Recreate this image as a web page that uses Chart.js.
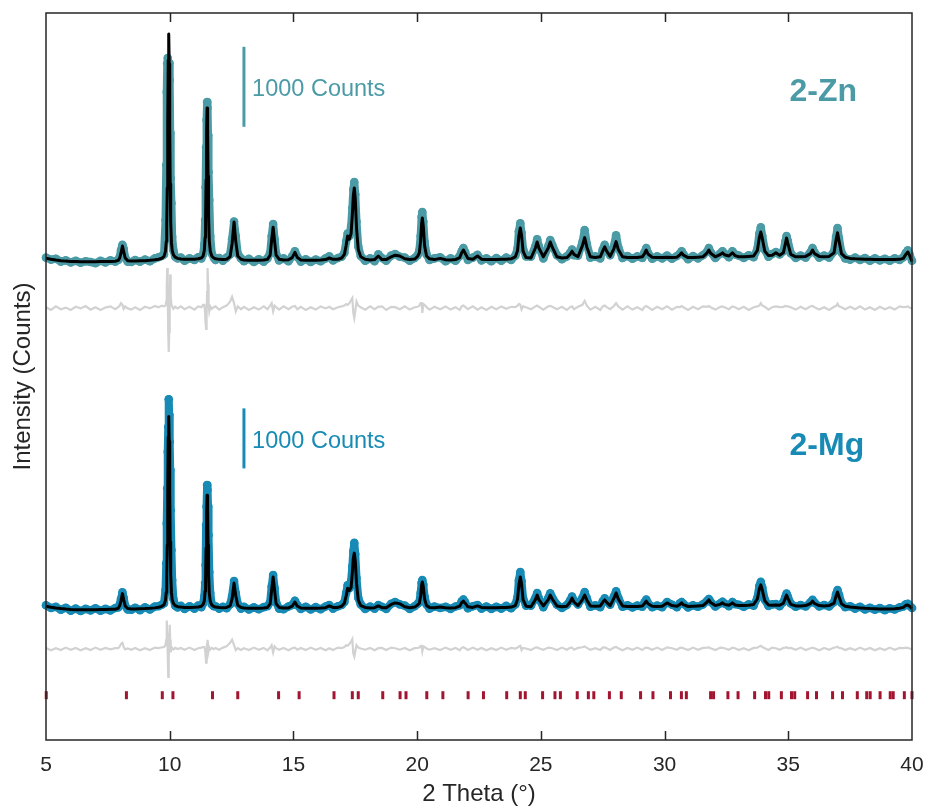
<!DOCTYPE html>
<html>
<head>
<meta charset="utf-8">
<title>PXRD refinement: 2-Zn and 2-Mg</title>
<script src="https://cdn.jsdelivr.net/npm/chart.js@4.4.1/dist/chart.umd.min.js"></script>
<style>
  html, body { margin: 0; padding: 0; background: #ffffff; }
  canvas { display: block; }
</style>
</head>
<body>
<canvas id="c" width="928" height="809"></canvas>
<script>
// 2θ sampling points shared by every pattern trace (denser across reflections)
const twoTheta = [
  5.0, 5.2, 5.4, 5.6, 5.8, 6.0, 6.2, 6.4, 6.6, 6.8, 7.0, 7.2, 7.4, 7.6, 7.8,
  7.92, 7.98, 8.03, 8.09, 8.14, 8.2, 8.3,
  8.45, 8.6, 8.8, 9.0, 9.2, 9.4, 9.55, 9.68, 9.77,
  9.83, 9.86, 9.88, 9.9, 9.92, 9.94, 9.96, 9.98, 10.0, 10.02, 10.04, 10.07, 10.1, 10.15, 10.22, 10.32,
  10.45, 10.6, 10.8, 11.0, 11.15, 11.28, 11.35,
  11.4, 11.43, 11.45, 11.47, 11.49, 11.51, 11.53, 11.55, 11.57, 11.6, 11.64, 11.7, 11.78,
  11.85, 12.0, 12.15, 12.3, 12.44, 12.52, 12.6, 12.67, 12.75, 12.88,
  13.0, 13.2, 13.4, 13.6, 13.8, 13.95, 14.06, 14.12, 14.18, 14.24, 14.3, 14.42,
  14.6, 14.8, 14.95, 15.06, 15.16, 15.3, 15.5, 15.7, 15.9, 16.1, 16.3, 16.45, 16.6, 16.8, 16.95,
  17.06, 17.13, 17.19, 17.26, 17.33, 17.38, 17.42, 17.46, 17.5, 17.55, 17.62, 17.72,
  17.9, 18.1, 18.28, 18.43, 18.58, 18.75, 18.95, 19.11, 19.3, 19.5, 19.7, 19.9, 20.02,
  20.09, 20.14, 20.18, 20.21, 20.25, 20.3, 20.38, 20.5,
  20.7, 20.93, 21.15, 21.35, 21.55, 21.72, 21.8, 21.87, 21.94, 22.05, 22.25, 22.44, 22.6, 22.8, 23.0, 23.2, 23.4, 23.6, 23.8, 23.97,
  24.06, 24.11, 24.17, 24.22, 24.28, 24.4,
  24.6, 24.78, 24.85, 24.92, 25.1, 25.3, 25.38, 25.46, 25.65, 25.85, 26.05, 26.18, 26.26, 26.34, 26.5, 26.68, 26.77, 26.86, 27.0,
  27.2, 27.4, 27.5, 27.58, 27.66, 27.8, 27.95, 28.04, 28.13, 28.3, 28.5, 28.7, 28.9, 29.1, 29.19, 29.26, 29.33, 29.5, 29.7, 29.9,
  30.1, 30.3, 30.5, 30.62, 30.69, 30.76, 30.95, 31.15, 31.35, 31.55, 31.72, 31.79, 31.86, 32.05, 32.26, 32.34, 32.42, 32.6, 32.74, 32.85,
  33.0, 33.2, 33.4, 33.6, 33.75, 33.83, 33.89, 33.95, 34.05, 34.2, 34.35, 34.5, 34.65, 34.8, 34.88, 34.93, 34.98,
  35.1, 35.3, 35.5, 35.7, 35.9, 35.98, 36.06, 36.25, 36.45, 36.65, 36.85, 36.93, 36.99, 37.05, 37.15, 37.3,
  37.5, 37.7, 37.9, 38.1, 38.3, 38.5, 38.7, 38.9, 39.1, 39.3, 39.5, 39.65, 39.75, 39.83, 39.9, 40.0
];

// 2-Zn: observed, calculated and difference (counts above background)
const znObs = [
  30, 5, 15, -20, -5, -30, -10, -35, -15, -25, -40, -10, -30, -5, -20,
  0, 40, 120, 190, 140, 30, -20,
  -25, 0, -20, 5, -15, 20, 35, 50, 70,
  500, 1190, 2100, 2460, 2525, 2250, 2400, 2460, 2250, 1590, 1025, 710, 290, 120, 40, 20,
  30, -10, 20, 0, 35, 20, 70,
  200, 500, 910, 1410, 1750, 1975, 1900, 1560, 1100, 750, 300, 80, 30,
  0, 25, -10, 30, 70, 260, 480, 300, 80, 20,
  -15, 15, -25, 10, -20, 20, 90, 300, 450, 260, 80, -5,
  20, -15, 45, 110, 40, -20, 10, -25, 5, -15, 20, 45, -5, 25, 40,
  90, 230, 330, 300, 420, 650, 880, 975, 820, 480, 170, 50,
  -10, 20, -15, 70, 25, -10, 55, 75, 40, 30, -10, 25, 60,
  120, 300, 540, 600, 480, 230, 70, 0,
  20, 35, -15, 20, -10, 50, 110, 150, 100, 0, 30, 65, -5, 20, -15, 25, -10, 30, 0, 55,
  150, 360, 460, 340, 140, 45,
  40, 175, 260, 170, 20, 170, 250, 190, 60, 10, 45, 90, 130, 60, 55, 220, 375, 200, 30,
  45, 20, 130, 190, 120, 60, 170, 310, 160, 25, 50, 15, 45, 25, 100, 150, 90, 15, 45, 20,
  55, 15, 50, 80, 110, 70, 10, 50, 20, 60, 105, 150, 100, 25, 85, 110, 80, 35, 110, 70,
  55, 25, 60, 35, 140, 330, 410, 300, 130, 40, 75, 100, 70, 110, 230, 300, 240,
  85, 25, 55, 30, 100, 150, 95, 30, 55, 30, 110, 290, 400, 270, 95, 20,
  5, 30, 0, 25, -10, 20, -5, 15, -10, 20, 0, 35, 90, 120, 70, -10
];
const znCalc = [
  22, 10, 0, -8, -14, -18, -20, -22, -22, -22, -22, -20, -20, -18, -15,
  -5, 25, 85, 175, 105, 25, -8,
  -12, -12, -10, -8, -4, 2, 10, 22, 45,
  110, 230, 450, 900, 1700, 2500, 2825, 2450, 1700, 950, 480, 220, 120, 65, 35, 20,
  12, 8, 8, 10, 15, 25, 50,
  120, 280, 520, 1000, 1600, 1900, 1650, 1050, 560, 240, 110, 50, 25,
  15, 8, 5, 10, 40, 200, 475, 230, 50, 10,
  0, -2, -3, -3, 0, 8, 60, 250, 410, 230, 60, 10,
  0, 2, 30, 95, 30, 0, -3, -3, -2, 0, 5, 25, 8, 10, 25,
  70, 180, 300, 260, 330, 560, 800, 900, 760, 400, 130, 40,
  10, 0, 5, 50, 5, 5, 40, 60, 50, 15, 5, 12, 45,
  90, 240, 450, 525, 420, 180, 50, 15,
  5, 20, 3, 0, 5, 30, 90, 125, 85, 20, 10, 50, 10, 5, 5, 5, 8, 10, 15, 40,
  120, 300, 400, 310, 110, 30,
  25, 150, 225, 150, 40, 150, 225, 160, 40, 25, 30, 70, 110, 70, 40, 180, 280, 160, 40,
  30, 40, 110, 165, 110, 45, 140, 230, 130, 40, 30, 30, 30, 40, 80, 125, 75, 35, 30, 30,
  35, 30, 35, 65, 90, 60, 30, 30, 35, 40, 90, 125, 85, 40, 70, 90, 65, 50, 90, 55,
  40, 40, 45, 50, 120, 280, 350, 270, 110, 55, 60, 90, 60, 90, 200, 275, 210,
  70, 40, 40, 45, 80, 125, 80, 45, 40, 45, 90, 250, 340, 240, 80, 35,
  20, 15, 12, 10, 8, 5, 5, 5, 5, 5, 8, 20, 70, 100, 60, -20
];
const znDiff = [
  10, -25, 20, -15, 5, -25, 15, -5, 25, -20, 10, -25, 5, 20, -15,
  10, 30, 60, 40, -10, 20, -5,
  -20, 10, -25, 15, -5, 25, 10, 30, 20,
  30, 80, 260, 500, 200, -300, -550, -300, 100, 420, 150, 40, 20, -10, 15, -5,
  20, -15, 15, -20, 20, 10, 40,
  40, -60, -180, -260, -120, 200, 500, 300, 60, -40, 20, -10, 10,
  20, -20, 10, 30, 80, 140, 60, -40, 20, -15,
  15, -25, 10, -20, 20, -15, 30, 60, -40, 30, 10, -20,
  20, -15, 15, 25, -15, 15, -25, 10, -20, 20, -5, 15, -15, 10, 20,
  30, 50, 40, 60, 100, 125, -60, -125, -40, 80, 30, 10,
  -20, 20, -15, 15, 20, -25, 15, 10, -15, 20, -20, 10, 15,
  30, 60, 60, -60, 50, 40, 10, -20,
  15, -15, 20, -20, 10, -25, 20, 30, 15, -15, 20, -20, 10, -25, 15, -15, 20, -10, 15, 10,
  30, 50, 40, -20, 20, 10,
  -15, 20, 30, 15, -20, 20, 25, 15, -15, 15, -25, 10, 20, -15, 15, 40, 90, 30, -20,
  15, -25, 20, 30, 10, -15, 25, 60, 20, -20, 20, -20, 10, -25, 15, 25, 10, -25, 15, -15,
  20, -20, 15, 10, 25, 10, -25, 15, -15, 20, 15, 25, 10, -20, 15, 20, 10, -15, 20, 10,
  -15, 15, -25, 10, 20, 30, 60, 30, 15, -20, 10, 20, 10, 15, 25, 20, 20,
  10, -20, 15, -15, 20, 25, 10, -20, 10, -25, 15, 25, 55, 20, 10, -15,
  15, -15, 20, -20, 10, -25, 15, -15, 10, -20, 20, 10, 15, 20, 5, -5
];

// 2-Mg: observed, calculated and difference (counts above background)
const mgObs = [
  45, 0, 20, -30, 5, -45, -10, -50, -15, -40, -5, -45, -15, -40, 0,
  10, 60, 150, 260, 170, 40, -25,
  -30, 5, -35, 10, -25, 25, 30, 55, 80,
  300, 745, 1410, 1995, 2605, 3020, 3480, 3215, 2770, 2300, 1630, 965, 465, 150, 40, 10,
  35, -15, 30, -10, 40, 15, 75,
  200, 415, 715, 1385, 1690, 2050, 1965, 1690, 1215, 600, 250, 60, 30,
  30, -10, 20, -5, 60, 200, 450, 250, 70, -10,
  20, -25, 10, -20, 15, 30, 100, 360, 550, 330, 95, -10,
  -20, 25, 50, 120, 45, -15, 20, -25, 15, -20, 25, 50, -10, 30, 50,
  100, 250, 380, 330, 450, 700, 950, 1085, 900, 500, 170, 60,
  -15, 25, -10, 50, 20, -15, 70, 100, 60, 40, -15, 30, 70,
  100, 250, 420, 465, 390, 190, 60, -10,
  25, 0, 20, -15, 25, 45, 110, 140, 95, -5, 30, 50, -10, 25, -15, 20, -10, 35, -5, 60,
  190, 460, 600, 450, 170, 40,
  40, 170, 250, 160, 15, 170, 245, 175, 55, 0, 50, 125, 190, 120, 60, 170, 265, 160, 20,
  45, 15, 110, 160, 110, 55, 190, 280, 170, 20, 45, 10, 40, 20, 95, 140, 80, 15, 40, 15,
  100, 55, 15, 80, 100, 70, 10, 45, 20, 60, 120, 150, 105, 25, 80, 105, 75, 30, 100, 65,
  55, 20, 60, 40, 170, 370, 435, 340, 140, 35, 60, 65, 30, 100, 185, 240, 190,
  75, 20, 50, 25, 95, 135, 90, 25, 50, 25, 100, 230, 300, 220, 85, 15,
  30, -10, 20, -25, 5, -30, 0, -35, -5, -25, 10, 25, 60, 70, 40, 0
];
const mgCalc = [
  30, 12, 0, -10, -18, -24, -28, -30, -30, -30, -28, -26, -24, -22, -20,
  -5, 40, 120, 240, 140, 35, -10,
  -15, -15, -12, -10, -5, 2, 12, 28, 55,
  130, 260, 520, 1050, 1950, 2850, 3190, 2780, 1950, 1100, 560, 260, 140, 75, 40, 22,
  15, 10, 10, 12, 18, 30, 60,
  120, 280, 520, 1000, 1580, 1880, 1640, 1050, 560, 240, 110, 50, 25,
  15, 8, 5, 10, 35, 150, 415, 200, 45, 10,
  0, -3, -5, -5, 0, 10, 70, 300, 515, 290, 70, 10,
  0, 2, 30, 100, 30, 0, -5, -5, -3, 0, 5, 35, 10, 10, 30,
  80, 200, 330, 290, 340, 580, 830, 915, 780, 410, 130, 40,
  10, 0, 5, 35, 5, 5, 60, 85, 70, 20, 5, 15, 50,
  80, 200, 380, 435, 350, 150, 40, 10,
  5, 15, 3, 0, 5, 30, 90, 115, 80, 20, 10, 35, 10, 5, 5, 5, 8, 10, 15, 40,
  150, 380, 515, 400, 140, 30,
  20, 140, 215, 140, 35, 140, 215, 150, 35, 20, 30, 100, 165, 100, 40, 140, 215, 130, 35,
  30, 35, 95, 135, 95, 40, 160, 250, 150, 35, 25, 25, 25, 35, 75, 115, 70, 30, 25, 30,
  85, 40, 30, 60, 85, 55, 25, 30, 35, 40, 100, 135, 90, 40, 65, 85, 60, 45, 85, 50,
  40, 40, 45, 60, 150, 320, 385, 300, 120, 50, 45, 50, 45, 80, 160, 215, 165,
  60, 35, 35, 40, 75, 115, 75, 40, 35, 40, 80, 200, 265, 190, 70, 30,
  15, 8, 2, -5, -10, -12, -15, -15, -15, -12, -5, 10, 45, 50, 30, -10
];
const mgDiff = [
  15, -25, 10, -20, 20, -15, 15, -25, 10, -20, 20, -15, 15, -10, 10,
  10, 40, 80, 100, 30, -10, 5,
  -15, 15, -25, 10, -20, 20, 10, 25, 30,
  60, 150, 470, 250, -100, -470, -200, 250, 400, 150, -60, 30, 10, -10, 15, -5,
  15, -15, 20, -20, 10, 20, 30,
  30, -20, -120, -230, -100, 80, 150, 60, -40, 20, -10, 15, -5,
  15, -15, 20, 40, 100, 150, 60, -20, 10, -20,
  10, -20, 20, -15, 15, -25, 20, 60, -60, 40, 10, -15,
  15, -25, 10, 20, -15, 15, -20, 20, -15, 15, -25, 10, -20, 20, 10,
  30, 60, 50, 80, 120, 160, -80, -130, -40, 60, 20, 5,
  -15, 15, -25, 10, 15, -20, 20, 10, -15, 15, -25, 10, 15,
  20, 50, 50, -40, 40, 30, 5, -15,
  10, -20, 20, -15, 15, -25, 15, 25, 10, -20, 20, -15, 15, -25, 10, -20, 20, -15, 15, 5,
  20, 40, 50, -20, 15, 5,
  -20, 20, 25, 10, -15, 20, 15, 10, -20, 20, -15, 15, 20, -15, 15, 25, 40, 15, -15,
  10, -20, 20, 25, 10, -20, 20, 30, 10, -25, 15, -15, 20, -20, 10, 20, 15, -15, 20, -20,
  25, 10, -15, 15, 20, 10, -20, 20, -15, 15, 20, 25, 10, -20, 20, 15, 10, -15, 20, 10,
  -20, 10, -25, 15, 20, 40, 50, 30, 10, -20, 20, 10, -15, 15, 20, 25, 10,
  15, -15, 20, -20, 10, 20, 10, -25, 15, -15, 20, 25, 35, 15, 10, -20,
  10, -20, 20, -15, 15, -25, 10, -20, 20, -15, 15, 10, 20, 15, 5, -5
];

// Calculated reflection positions (2θ)
const braggPositions = [
  5.01, 8.25, 9.70, 10.13, 11.73, 12.75, 14.40, 15.23, 16.64, 17.38, 17.62, 18.61, 19.31, 19.55,
  20.39, 21.04, 22.06, 22.68, 23.62, 24.17, 24.37, 25.07, 25.57, 25.79, 26.47, 26.92, 27.14, 27.77,
  28.25, 29.03, 29.53, 30.24, 30.68, 30.88, 31.86, 31.98, 32.56, 32.97, 33.64, 34.08, 34.21, 34.72,
  35.13, 35.26, 35.78, 36.14, 36.79, 37.19, 37.79, 38.17, 38.31, 38.71, 39.12, 39.24, 39.69, 40.0
];

const xTickValues = [5, 10, 15, 20, 25, 30, 35, 40];
const sampleNames = ['2-Zn', '2-Mg'];
const scaleBarCounts = 1000;

// ---- layout of the stacked traces (vertical units = 2-Zn counts) ----
const Y_MAX = 9087.5;
const ZN_OFFSET = 6000, ZN_DIFF_OFFSET = 5400, ZN_GAIN = 1;
const MG_OFFSET = 1650, MG_DIFF_OFFSET = 1140, MG_GAIN = 0.75;
const BRAGG_ROW = 560;
const BAR_X = 13.0, BAR_TEXT_X = 13.33, NAME_X = 35.05;
const ZN_BAR_BASE = 7665, MG_BAR_BASE = 3395;
const ZN_BAR_TEXT_Y = 8045, MG_BAR_TEXT_Y = 3650;
const ZN_NAME_Y = 7988, MG_NAME_Y = 3562;

const ZN_COLOR = '#4b9ba6';
const MG_COLOR = '#178bb5';
const CALC_COLOR = '#000000';
const DIFF_COLOR = '#d2d2d2';
const BRAGG_COLOR = '#a2142f';
const AXIS_COLOR = '#262626';
const FONT = "'Liberation Sans', Arial, Helvetica, sans-serif";

const series = [znObs, znCalc, znDiff, mgObs, mgCalc, mgDiff];
series.forEach((s, i) => {
  if (s.length !== twoTheta.length) throw new Error('series ' + i + ' has ' + s.length + ' values, expected ' + twoTheta.length);
});

const trace = (vals, offset, gain) => twoTheta.map((t, i) => ({ x: t, y: offset + vals[i] * gain }));

const obsStyle = (color) => ({
  showLine: true, borderColor: color, borderWidth: 8, borderCapStyle: 'round', borderJoinStyle: 'round',
  pointRadius: 4.3, pointBackgroundColor: color, pointBorderWidth: 0, pointHoverRadius: 0,
  clip: false, order: 1
});
const calcStyle = { showLine: true, borderColor: CALC_COLOR, borderWidth: 3, borderJoinStyle: 'round', pointRadius: 0, order: 0, clip: false };
const diffStyle = { showLine: true, borderColor: DIFF_COLOR, borderWidth: 2.2, pointRadius: 0, order: 2 };

const datasets = [
  Object.assign({ label: '2-Zn obs', data: trace(znObs, ZN_OFFSET, ZN_GAIN) }, obsStyle(ZN_COLOR)),
  Object.assign({ label: '2-Zn calc', data: trace(znCalc, ZN_OFFSET, ZN_GAIN) }, calcStyle),
  Object.assign({ label: '2-Zn diff', data: trace(znDiff, ZN_DIFF_OFFSET, ZN_GAIN) }, diffStyle),
  Object.assign({ label: '2-Mg obs', data: trace(mgObs, MG_OFFSET, MG_GAIN) }, obsStyle(MG_COLOR)),
  Object.assign({ label: '2-Mg calc', data: trace(mgCalc, MG_OFFSET, MG_GAIN) }, calcStyle),
  Object.assign({ label: '2-Mg diff', data: trace(mgDiff, MG_DIFF_OFFSET, MG_GAIN) }, diffStyle),
  {
    label: 'reflections', data: braggPositions.map(p => ({ x: p, y: BRAGG_ROW })),
    showLine: false, pointStyle: 'line', rotation: 90, pointRadius: 4, borderWidth: 3,
    borderColor: BRAGG_COLOR, pointBorderColor: BRAGG_COLOR, clip: false, order: 3
  },
  {
    label: '2-Zn scale', data: [{ x: BAR_X, y: ZN_BAR_BASE }, { x: BAR_X, y: ZN_BAR_BASE + scaleBarCounts * ZN_GAIN }],
    showLine: true, borderColor: ZN_COLOR, borderWidth: 3, pointRadius: 0, order: 3
  },
  {
    label: '2-Mg scale', data: [{ x: BAR_X, y: MG_BAR_BASE }, { x: BAR_X, y: MG_BAR_BASE + scaleBarCounts * MG_GAIN }],
    showLine: true, borderColor: MG_COLOR, borderWidth: 3, pointRadius: 0, order: 3
  }
];

// Box around the plot with inward x ticks, plus the text annotations
const framePlugin = {
  id: 'frame',
  afterDatasetsDraw(chart) {
    const { ctx, chartArea: a, scales: { x, y } } = chart;
    ctx.save();
    ctx.strokeStyle = AXIS_COLOR;
    ctx.lineWidth = 1.5;
    ctx.strokeRect(a.left, a.top, a.right - a.left, a.bottom - a.top);
    ctx.beginPath();
    xTickValues.forEach(v => {
      if (v <= x.min || v >= x.max) return;
      const px = Math.round(x.getPixelForValue(v)) + 0.5;
      ctx.moveTo(px, a.bottom); ctx.lineTo(px, a.bottom - 9);
      ctx.moveTo(px, a.top); ctx.lineTo(px, a.top + 9);
    });
    ctx.stroke();

    ctx.textAlign = 'left';
    ctx.textBaseline = 'alphabetic';
    ctx.font = '23.5px ' + FONT;
    ctx.fillStyle = ZN_COLOR;
    ctx.fillText(scaleBarCounts + ' Counts', x.getPixelForValue(BAR_TEXT_X), y.getPixelForValue(ZN_BAR_TEXT_Y));
    ctx.fillStyle = MG_COLOR;
    ctx.fillText(scaleBarCounts + ' Counts', x.getPixelForValue(BAR_TEXT_X), y.getPixelForValue(MG_BAR_TEXT_Y));

    ctx.font = 'bold 32px ' + FONT;
    ctx.fillStyle = ZN_COLOR;
    ctx.fillText(sampleNames[0], x.getPixelForValue(NAME_X), y.getPixelForValue(ZN_NAME_Y));
    ctx.fillStyle = MG_COLOR;
    ctx.fillText(sampleNames[1], x.getPixelForValue(NAME_X), y.getPixelForValue(MG_NAME_Y));
    ctx.restore();
  }
};

new Chart(document.getElementById('c'), {
  type: 'scatter',
  data: { datasets },
  options: {
    responsive: false,
    animation: false,
    devicePixelRatio: 1,
    events: [],
    layout: { padding: { top: 13, right: 16, left: 0, bottom: 0 } },
    plugins: { legend: { display: false }, tooltip: { enabled: false } },
    scales: {
      x: {
        type: 'linear', min: 5, max: 40, position: 'bottom',
        afterBuildTicks: (s) => { s.ticks = xTickValues.map(v => ({ value: v })); },
        ticks: { color: AXIS_COLOR, font: { family: FONT, size: 21 }, padding: 13, maxRotation: 0, autoSkip: false },
        grid: { display: false, drawTicks: false },
        border: { display: false },
        title: { display: true, text: '2 Theta (°)', color: AXIS_COLOR, font: { family: FONT, size: 24 }, padding: { top: 0, bottom: 0 } },
        afterFit: (s) => { s.height = 69; s.paddingLeft = 0; s.paddingRight = 0; }
      },
      y: {
        type: 'linear', min: 0, max: Y_MAX, position: 'left',
        ticks: { display: false },
        grid: { display: false, drawTicks: false },
        border: { display: false },
        title: { display: true, text: 'Intensity (Counts)', color: AXIS_COLOR, font: { family: FONT, size: 24 }, padding: { top: 9, bottom: 0 } },
        afterFit: (s) => { s.width = 46; }
      }
    }
  },
  plugins: [framePlugin]
});
</script>
</body>
</html>
